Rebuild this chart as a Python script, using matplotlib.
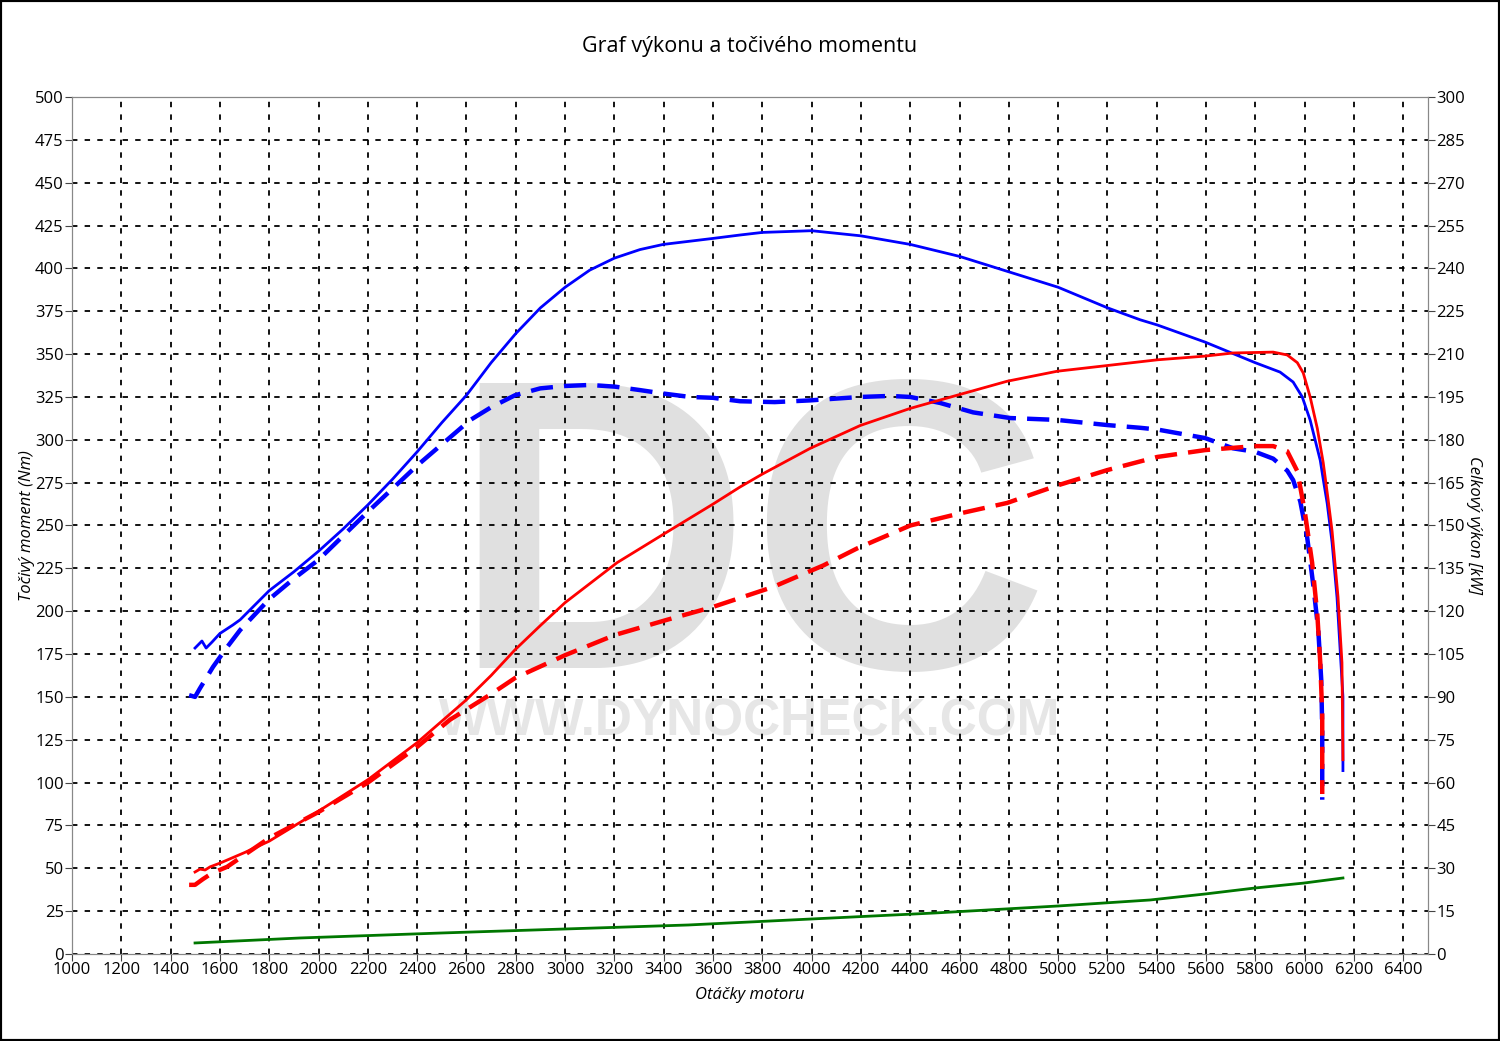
import matplotlib.pyplot as plt
from matplotlib.patches import Rectangle

# tuned torque (Nm)
rpm_tq_tuned = [1499, 1527, 1544, 1568, 1600, 1653, 1682, 1800, 1900, 2000, 2100, 2200, 2300, 2400,
                2500, 2600, 2700, 2800, 2900, 3000, 3100, 3200, 3304, 3398, 3600, 3710, 3800, 4000,
                4200, 4400, 4600, 4800, 5000, 5200, 5333, 5402, 5596, 5799, 5900, 5953, 5990, 6022,
                6042, 6063, 6075, 6091, 6111, 6131, 6143, 6155, 6155]
tq_tuned = [178.5, 182.6, 178.5, 182, 187, 192, 195, 212, 223, 235, 248, 262, 277, 293,
            310, 326, 345, 362, 377, 389, 399, 406, 411, 414, 417.5, 419.5, 421, 422,
            419, 414, 407, 398, 389, 377, 370, 367, 357, 345, 339.5, 333.7, 325, 311.5,
            300, 288, 277, 263, 240, 208, 179, 150, 107]

# stock torque (Nm)
rpm_tq_stock = [1475, 1499, 1519, 1572, 1629, 1682, 1800, 1900, 2000, 2200, 2400, 2615, 2700, 2797,
                2899, 3000, 3101, 3203, 3304, 3398, 3507, 3600, 3710, 3850, 3994, 4197, 4318, 4400,
                4521, 4655, 4805, 4996, 5199, 5333, 5402, 5596, 5710, 5799, 5872, 5929, 5953, 5982,
                6010, 6034, 6055, 6067, 6071, 6071]
tq_stock = [151, 150, 155, 167.5, 179, 189, 207, 219, 230, 258, 285, 311.5, 319, 326,
            330, 331.4, 332, 331, 329, 327, 325, 324.5, 322.5, 322, 323, 325, 325.6, 325,
            321.5, 316, 312.7, 311.6, 308.6, 307, 306, 301, 295, 293, 289, 282, 276.5, 264,
            243, 216, 189, 160, 131, 90]

# tuned power (kW)
rpm_pw_tuned = [1499, 1519, 1540, 1560, 1600, 1700, 1800, 2000, 2200, 2400, 2500, 2600, 2700, 2797,
                2900, 3000, 3211, 3400, 3600, 3710, 3800, 3994, 4197, 4400, 4590, 4793, 4996, 5199,
                5402, 5596, 5710, 5872, 5929, 5970, 5994, 6022, 6051, 6075, 6095, 6111, 6135, 6151,
                6155]
pw_tuned = [28.7, 29.7, 29.4, 30.5, 31.8, 35.5, 39.5, 50, 61, 74, 81.5, 89, 97.5, 106.5,
            115, 123, 137, 147, 157.5, 163.5, 168, 177, 185, 191, 195.6, 200.5, 204, 206,
            208, 209.3, 210.4, 210.7, 209.7, 207, 203.4, 195, 184, 172, 159, 148, 125, 102,
            68]

# stock power (kW)
rpm_pw_stock = [1475, 1499, 1531, 1568, 1629, 1800, 2000, 2200, 2400, 2533, 2700, 2797, 3000, 3203,
                3414, 3600, 3844, 4047, 4185, 4400, 4590, 4793, 4996, 5199, 5402, 5596, 5799, 5872,
                5929, 5970, 6000, 6030, 6051, 6063, 6071, 6071]
pw_stock = [24.2, 24.2, 26.2, 28.3, 30.5, 40.6, 49.7, 60, 72.5, 82, 91, 96.6, 104.6, 111.7,
            117, 121.5, 128.5, 136, 142, 150, 154, 157.9, 164, 169.4, 174, 176.4, 177.8, 177.8,
            176, 169, 155, 137, 119, 102, 84, 56]

# losses (kW)
rpm_loss = [1499, 1925, 2500, 3000, 3500, 4000, 4500, 5000, 5373, 5596, 5799, 5994, 6155]
pw_loss = [3.85, 5.6, 7.35, 8.75, 10.15, 12.25, 14.35, 16.8, 18.9, 21.0, 23.1, 24.8, 26.6]

xticks = list(range(1000, 6401, 200))
yticks_left = list(range(0, 501, 25))
yticks_right = list(range(0, 301, 15))

plt.rcParams['font.family'] = ['Open Sans', 'DejaVu Sans']

fig = plt.figure(figsize=(15, 10.41), dpi=100)
ax = fig.add_axes([0.048, 0.0836, 0.904, 0.8232])
ax2 = ax.twinx()

grid_style = dict(color='black', linestyle=(0, (3, 4)), linewidth=1.3)
ax.set_xlim(1000, 6500)
ax.set_ylim(0, 500)
ax2.set_ylim(0, 300)
ax.set_xticks(xticks)
ax.set_yticks(yticks_left)
ax2.set_yticks(yticks_right)
ax.grid(True, **grid_style)
ax.set_axisbelow(True)

# watermark
ax.text(0.5, 0.334, 'DC', transform=ax.transAxes, ha='center', va='baseline',
        fontsize=298, fontweight='bold', color='#e0e0e0', family='Liberation Sans', zorder=0.1)
ax.text(0.5, 0.2555, 'WWW.DYNOCHECK.COM', transform=ax.transAxes, ha='center', va='baseline',
        fontsize=37, fontweight='bold', color='#e6e6e6', family='Liberation Sans', zorder=0.1)

ax.plot(rpm_tq_tuned, tq_tuned, color='#0000ff', linewidth=2, zorder=3)
ax.plot(rpm_tq_stock, tq_stock, color='#0000ff', linewidth=3.2, linestyle=(0, (5, 2.5)), zorder=3)
ax2.plot(rpm_pw_tuned, pw_tuned, color='#ff0000', linewidth=2, zorder=3)
ax2.plot(rpm_pw_stock, pw_stock, color='#ff0000', linewidth=3.2, linestyle=(0, (5, 2.5)), zorder=3)
ax2.plot(rpm_loss, pw_loss, color='#007700', linewidth=2, zorder=3)

for a in (ax, ax2):
    for s in a.spines.values():
        s.set_color('#888888')
    a.tick_params(direction='out', length=5, color='#444444', labelsize=12, pad=1)

ax.set_xlabel('Otáčky motoru', fontsize=12, style='italic', labelpad=6)
ax.set_ylabel('Točivý moment (Nm)', fontsize=12, style='italic', labelpad=0)
ax2.set_ylabel('Celkový výkon [kW]', fontsize=12, style='italic', rotation=-90, labelpad=12)
fig.text(0.5, 0.955, 'Graf výkonu a točivého momentu', ha='center', va='center', fontsize=15.5)

fig.patches.append(Rectangle((0, 0), 1, 1, transform=fig.transFigure, fill=False,
                             edgecolor='black', linewidth=3))

plt.savefig('out.png', dpi=100)
